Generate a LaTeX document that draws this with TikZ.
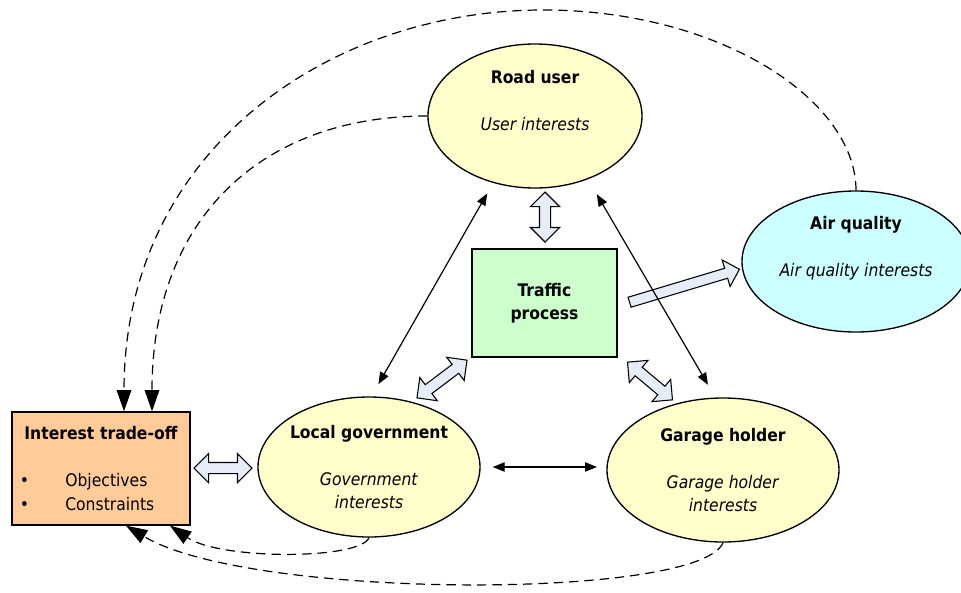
\documentclass[tikz,border=0pt]{standalone}
\usepackage{fontspec}
\setmainfont{DejaVu Sans Condensed}
\usetikzlibrary{shapes.geometric,shapes.arrows,arrows.meta,calc}

\definecolor{useryellow}{RGB}{255,255,204}
\definecolor{aircyan}{RGB}{204,255,255}
\definecolor{trafficgreen}{RGB}{204,255,204}
\definecolor{tradeorange}{RGB}{255,204,153}
\definecolor{arrowfill}{RGB}{230,236,248}

\tikzset{
  every node/.style={font=\fontsize{13}{17.6}\selectfont},
  actor/.style={ellipse, draw, line width=1pt, fill=useryellow, inner sep=0pt},
  actortext/.style={align=center, inner sep=0pt},
  trafficbox/.style={rectangle, draw, line width=1pt, fill=trafficgreen, align=center,
    minimum width=108.75pt, minimum height=81pt},
  tradebox/.style={rectangle, draw, line width=1pt, fill=tradeorange, align=left,
    inner xsep=0pt, text width=133.5pt, minimum height=84.75pt},
  blockarrow/.style={double arrow, draw, line width=0.8pt, fill=arrowfill,
    inner xsep=0pt, inner ysep=3.75pt, double arrow head extend=6.75pt},
  onearrow/.style={single arrow, draw, line width=0.8pt, fill=arrowfill,
    inner xsep=0pt, inner ysep=3.5pt, single arrow head extend=6.5pt},
  link/.style={{Triangle[length=9pt,width=7pt]}-{Triangle[length=9pt,width=7pt]}, line width=0.9pt},
  feedback/.style={-{Triangle[length=16pt,width=11pt]}, dash pattern=on 7pt off 4.5pt, line width=0.9pt}
}

\begin{document}
\begin{tikzpicture}[x=0.75pt, y=-0.75pt]

    \useasboundingbox (0,0) rectangle (961,593);

    % Stakeholders
    \node[actor, minimum width=160.5pt, minimum height=108pt,
      label={[actortext]center:{\textbf{Road user}\\\strut\\\textit{User interests}\\\strut}}] (ru) at (535,116) {};
    \node[actor, minimum width=166.5pt, minimum height=105pt,
      label={[actortext]center:{\textbf{Local government}\\\strut\\\textit{Government}\\\textit{interests}}}] (lg) at (369,467) {};
    \node[actor, minimum width=174pt, minimum height=108pt,
      label={[actortext]center:{\textbf{Garage holder}\\\strut\\\textit{Garage holder}\\\textit{interests}}}] (gh) at (723,470) {};
    \node[actor, fill=aircyan, minimum width=171pt, minimum height=105.75pt,
      label={[actortext]center:{\textbf{Air quality}\\\strut\\\textit{Air quality interests}\\\strut}}] (aq) at (856,261.5) {};

    % Traffic process
    \node[trafficbox] (tp) at (544.5,303) {\textbf{Traffic}\\\textbf{process}};

    % Interest trade-off
    \node[tradebox] (it) at (101,468.5) {\makebox[133.5pt]{\textbf{Interest trade-off}}\\\strut\\
      \hspace*{6pt}\makebox[34pt][l]{\textbullet}Objectives\\
      \hspace*{6pt}\makebox[34pt][l]{\textbullet}Constraints};

    % Block arrows
    \node[blockarrow, minimum height=43.5pt] (itlg) at (223,468) {};
    \node[blockarrow, minimum height=37.5pt, rotate=90] (rutp) at (545,217) {};
    \node[blockarrow, minimum height=47pt, rotate=37] (tplg) at (442,379) {};
    \node[blockarrow, minimum height=44pt, rotate=-40] (tpgh) at (650,381) {};
    \node[onearrow, minimum height=86pt, rotate=16.7] (tpaq) at (682,286.5) {};

    % Interactions
    \draw[link, shorten <=9pt, shorten >=10.5pt] (ru.238) -- (lg.88);
    \draw[link, shorten <=13pt, shorten >=11pt] (ru.310) -- (gh.96);
    \draw[link, shorten <=9pt, shorten >=7pt] (lg.east) -- (lg.east -| gh.west);

    % Feedback to the trade-off
    \draw[feedback] (aq.north) .. controls (856,100) and (720,10) .. (543,10)
      .. controls (330,10) and (124,150) .. ($(it.north)+(23,0)$);
    \draw[feedback] (ru.west) .. controls (260,116) and (152,220) .. ($(it.north)+(51,0)$);
    \draw[feedback] (lg.south) .. controls (360,560) and (220,560) .. ($(it.south)+(69,0)$);
    \draw[feedback] (gh.south) .. controls (700,600) and (250,600) .. ($(it.south)+(25,0)$);

\end{tikzpicture}
\end{document}
